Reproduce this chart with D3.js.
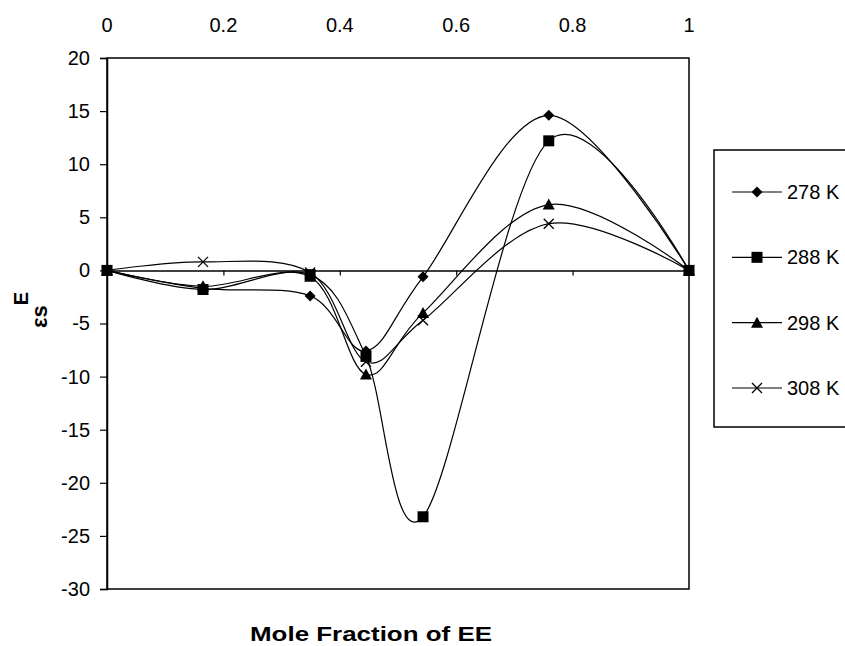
<!DOCTYPE html>
<html>
<head>
<meta charset="utf-8">
<script src="https://cdn.jsdelivr.net/npm/d3@7"></script>
<style>
  html, body { margin: 0; padding: 0; background: #fff; }
  svg { display: block; font-family: "Liberation Sans", Arial, sans-serif; }
</style>
</head>
<body>
<div id="chart"></div>
<script>
// mole fraction of EE at each measured point
const moleFraction = [0, 0.165, 0.349, 0.445, 0.543, 0.759, 1];

// excess static permittivity per temperature
const eps278 = [0, -1.7, -2.4, -7.6, -0.6, 14.6, 0];
const eps288 = [0, -1.8, -0.4, -8.1, -23.2, 12.2, 0];
const eps298 = [0, -1.5, -0.6, -9.8, -4.0, 6.2, 0];
const eps308 = [0, 0.8, -0.2, -8.6, -4.7, 4.4, 0];

const seriesNames = ["278 K", "288 K", "298 K", "308 K"];
const seriesMarkers = ["diamond", "square", "triangle", "cross"];

const xTicks = [0, 0.2, 0.4, 0.6, 0.8, 1];
const yTicks = [-30, -25, -20, -15, -10, -5, 0, 5, 10, 15, 20];

const width = 845, height = 646;
const plot = { left: 107, top: 58, right: 689, bottom: 589 };

const svg = d3.select("#chart").append("svg")
    .attr("width", width)
    .attr("height", height);

const x = d3.scaleLinear().domain([0, 1]).range([plot.left, plot.right]);
const y = d3.scaleLinear().domain([-30, 20]).range([plot.bottom, plot.top]);

const series = [eps278, eps288, eps298, eps308].map((vals, i) => ({
    name: seriesNames[i],
    marker: seriesMarkers[i],
    points: vals.map((v, j) => ({ x: moleFraction[j], y: v }))
}));

// plain hyphen for negatives, like the original
const fmt = d => String(d);

// plot frame
svg.append("rect")
    .attr("x", plot.left)
    .attr("y", plot.top)
    .attr("width", plot.right - plot.left)
    .attr("height", plot.bottom - plot.top)
    .attr("fill", "none")
    .attr("stroke", "#000")
    .attr("stroke-width", 1.5);

// y axis on the left
const yAxis = svg.append("g")
    .attr("transform", `translate(${plot.left},0)`)
    .call(d3.axisLeft(y).tickValues(yTicks).tickSize(7).tickPadding(10).tickFormat(fmt));

// x axis crossing at zero, labels moved to the top
svg.append("g")
    .attr("transform", `translate(0,${y(0)})`)
    .call(d3.axisBottom(x).tickValues(xTicks).tickSize(5).tickFormat(""));

svg.selectAll(".domain").attr("stroke", "#000").attr("stroke-width", 1.5);
svg.selectAll(".tick line").attr("stroke", "#000").attr("stroke-width", 1.2);
yAxis.selectAll("text")
    .attr("font-size", 20)
    .attr("fill", "#000")
    .attr("font-family", "Liberation Sans, Arial, sans-serif");

svg.append("g").selectAll("text")
    .data(xTicks)
    .join("text")
    .attr("x", d => x(d))
    .attr("y", 25)
    .attr("dy", "0.35em")
    .attr("text-anchor", "middle")
    .attr("font-size", 20)
    .text(fmt);

// smoothed lines like Excel
const line = d3.line()
    .x(d => x(d.x))
    .y(d => y(d.y))
    .curve(d3.curveCardinal.tension(0));

svg.append("g").selectAll("path")
    .data(series)
    .join("path")
    .attr("d", d => line(d.points))
    .attr("fill", "none")
    .attr("stroke", "#000")
    .attr("stroke-width", 1.2);

function drawMarker(g, type) {
    if (type === "diamond") {
        g.append("path").attr("d", "M0,-5.5L5.5,0L0,5.5L-5.5,0Z").attr("fill", "#000");
    } else if (type === "square") {
        g.append("rect").attr("x", -5.5).attr("y", -5.5).attr("width", 11).attr("height", 11).attr("fill", "#000");
    } else if (type === "triangle") {
        g.append("path").attr("d", "M0,-6L6,5L-6,5Z").attr("fill", "#000");
    } else {
        g.append("path").attr("d", "M-5,-5L5,5M-5,5L5,-5").attr("stroke", "#000").attr("stroke-width", 1.3);
    }
}

series.forEach(s => {
    svg.append("g").selectAll("g")
        .data(s.points)
        .join("g")
        .attr("transform", d => `translate(${x(d.x)},${y(d.y)})`)
        .each(function () { drawMarker(d3.select(this), s.marker); });
});

// axis titles
svg.append("text")
    .attr("x", 371)
    .attr("y", 641)
    .attr("text-anchor", "middle")
    .attr("font-size", 21)
    .attr("font-weight", "bold")
    .attr("textLength", 242)
    .attr("lengthAdjust", "spacingAndGlyphs")
    .text("Mole Fraction of EE");

const yTitle = svg.append("text")
    .attr("transform", "translate(47,310) rotate(-90)")
    .attr("text-anchor", "middle")
    .attr("font-size", 22)
    .attr("font-weight", "bold");
yTitle.append("tspan").text("\u03b5s");
yTitle.append("tspan").attr("dy", -19).attr("font-size", 20).text("E");

// legend
const legend = svg.append("g");
legend.append("rect")
    .attr("x", 714)
    .attr("y", 150)
    .attr("width", 150)
    .attr("height", 277)
    .attr("fill", "#fff")
    .attr("stroke", "#000")
    .attr("stroke-width", 1.5);

const legendY = d3.scalePoint().domain(seriesNames).range([192, 388]);

const item = legend.selectAll("g.item")
    .data(series)
    .join("g")
    .attr("class", "item")
    .attr("transform", d => `translate(0,${legendY(d.name)})`);

item.append("line")
    .attr("x1", 732).attr("x2", 782)
    .attr("stroke", "#000").attr("stroke-width", 1.2);
item.append("g")
    .attr("transform", "translate(757,0)")
    .each(function (d) { drawMarker(d3.select(this), d.marker); });
item.append("text")
    .attr("x", 787)
    .attr("dy", "0.35em")
    .attr("font-size", 20)
    .text(d => d.name);
</script>
</body>
</html>
